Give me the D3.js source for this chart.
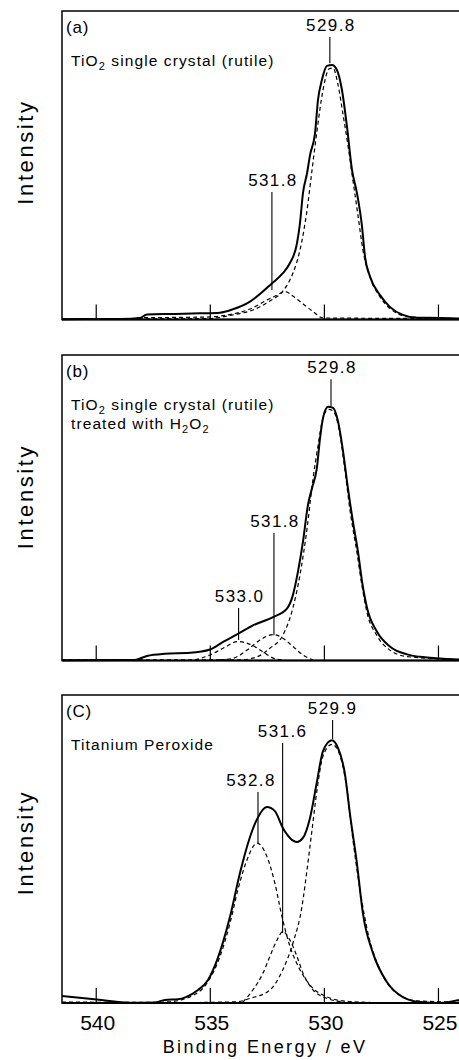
<!DOCTYPE html>
<html>
<head>
<meta charset="utf-8">
<script src="https://cdn.jsdelivr.net/npm/d3@7"></script>
<style>
  body { margin: 0; background: #fff; }
  svg text { font-family: "Liberation Sans", Arial, Helvetica, sans-serif; fill: #000; }
</style>
</head>
<body>
<div id="chart"></div>
<script>
// values: [binding energy (eV), intensity (% of panel height)]
const tickEnergies = [540, 535, 530, 525];
const panelTags = ["(a)", "(b)", "(C)"];
const sampleNames = [
  ["TiO_2 single crystal (rutile)"],
  ["TiO_2 single crystal (rutile)", "treated with H_2O_2"],
  ["Titanium Peroxide"]
];

// (a) TiO2 single crystal
const aEnvelope = [[541.5,0.1],[538.96,0.2],[538.08,0.5],[537.78,1.6],[536.55,1.8],[535.45,2.0],[534.58,2.2],[534.01,3.3],[533.26,5.8],[532.30,11.7],[531.82,15.0],[531.51,18.3],[531.20,24.7],[531.07,31.2],[530.94,40.9],[530.76,47.4],[530.63,53.3],[530.41,60.4],[530.28,71.2],[530.11,77.6],[529.89,82.2],[529.67,82.5],[529.45,80.9],[529.23,74.4],[529.01,62.5],[528.79,48.5],[528.57,40.9],[528.35,30.1],[528.22,20.4],[528.00,13.9],[527.56,7.9],[527.13,4.1],[526.56,1.5],[525.94,0.6],[524.94,0.5],[524.1,0.3]];
const aPeak529 = [[541.5,0.2],[535.10,0.3],[534.01,1.5],[533.13,3.1],[532.39,6.0],[531.82,9.2],[531.38,15.0],[531.07,22.5],[530.76,35.5],[530.54,48.5],[530.32,61.4],[530.06,74.4],[529.80,81.2],[529.62,81.5],[529.40,76.0],[529.18,66.3],[528.97,56.6],[528.75,45.2],[528.53,33.9],[528.31,22.5],[528.00,13.8],[527.56,7.3],[526.99,2.8],[526.25,0.8],[524.1,0.3]];
const aPeak531 = [[538.21,0.6],[535.15,0.8],[534.01,1.8],[533.26,3.4],[532.52,6.3],[532.08,7.9],[531.73,9.1],[531.38,7.6],[530.98,5.3],[530.50,2.6],[530.06,0.5],[524.1,0.3]];
const aPeaks = [
  {label: "529.8", e: 529.76, top: 91.6, bottom: 83.1},
  {label: "531.8", e: 532.30, top: 41.3, bottom: 9.6}
];

// (b) treated with H2O2
const bEnvelope = [[541.46,0.1],[538.3,0.2],[537.78,1.5],[536.99,2.2],[535.89,2.5],[535.01,3.6],[534.44,6.1],[533.79,8.7],[533.13,11.5],[532.25,14.2],[531.64,17.0],[531.38,21.4],[531.16,29.0],[530.94,38.8],[530.72,50.9],[530.54,56.5],[530.33,63.0],[530.19,72.8],[530.06,79.4],[529.84,83.1],[529.62,82.7],[529.40,78.2],[529.18,68.4],[528.97,56.5],[528.75,45.5],[528.53,35.7],[528.35,25.9],[528.13,17.2],[527.70,9.5],[527.13,4.6],[526.38,2.0],[525.81,1.2],[524.1,0.3]];
const bPeak529 = [[541.5,0.2],[533.70,0.2],[532.95,1.2],[532.39,4.0],[531.82,8.3],[531.38,17.2],[531.07,28.0],[530.76,43.2],[530.50,59.4],[530.28,70.3],[530.06,79.4],[529.84,82.2],[529.62,81.7],[529.32,74.1],[529.10,62.3],[528.88,49.3],[528.57,35.2],[528.35,24.3],[528.13,15.6],[527.70,8.2],[527.13,3.4],[526.38,1.3],[524.1,0.3]];
const bPeak531 = [[534.58,0.2],[534.01,0.7],[533.39,3.4],[532.82,6.7],[532.25,8.5],[531.82,7.3],[531.38,4.6],[530.94,1.8],[530.50,0.2]];
const bPeak533 = [[535.67,0.2],[535.01,1.8],[534.44,4.0],[533.79,6.2],[533.17,5.0],[532.69,2.8],[532.21,0.7],[531.73,0.1]];
const bPeaks = [
  {label: "529.8", e: 529.71, top: 92.1, bottom: 83.3},
  {label: "531.8", e: 532.21, top: 41.7, bottom: 8.3},
  {label: "533.0", e: 533.76, top: 17.2, bottom: 6.7}
];

// (c) titanium peroxide
const cEnvelope = [[541.5,2.3],[539.97,1.1],[538.52,0.1],[537.42,0.2],[536.99,1.0],[536.42,1.2],[536.07,1.9],[535.54,4.2],[535.10,7.5],[534.70,14.0],[534.14,27.9],[533.70,42.2],[533.26,53.9],[532.95,59.7],[532.52,63.6],[532.17,62.3],[531.82,56.8],[531.51,53.6],[531.20,52.3],[530.94,53.6],[530.63,60.1],[530.32,72.1],[530.06,81.8],[529.67,85.3],[529.41,82.9],[529.10,74.4],[528.88,61.4],[528.57,45.1],[528.31,29.0],[527.87,16.2],[527.26,6.8],[526.56,1.9],[525.81,0.3],[524.94,0.0],[524.1,1.0]];
const cPeak529 = [[536.5,0.1],[533.83,0.4],[533.26,1.5],[532.39,4.2],[531.82,10.8],[531.38,19.4],[530.98,31.4],[530.76,43.3],[530.54,56.3],[530.32,69.3],[530.06,80.2],[529.67,84.0],[529.41,82.1],[529.01,69.3],[528.75,53.0],[528.44,36.8],[528.09,22.7],[527.56,10.8],[526.81,3.1],[525.94,0.7],[524.1,0.3]];
const cPeak532 = [[541.5,0.3],[537.5,0.2],[536.77,0.4],[535.89,2.0],[535.15,6.4],[534.58,15.0],[534.14,25.8],[533.79,36.8],[533.39,46.5],[532.95,51.9],[532.52,47.6],[532.17,38.9],[531.86,28.1],[531.51,18.4],[531.07,10.8],[530.50,4.8],[529.89,2.0],[529.19,0.7],[528.0,0.2]];
const cPeak531 = [[533.57,0.3],[533.13,4.3],[532.69,9.7],[532.39,15.1],[532.08,20.4],[531.82,23.2],[531.51,20.4],[531.20,15.1],[530.94,9.7],[530.50,4.3],[529.89,1.5],[529.10,0.3]];
const cPeaks = [
  {label: "529.9", e: 529.64, top: 91.9, bottom: 85.7},
  {label: "531.6", e: 531.83, top: 84.4, bottom: 22.7},
  {label: "532.8", e: 532.91, top: 68.5, bottom: 51.9}
];

const xTitle = "Binding Energy / eV";
const yTitle = "Intensity";

// ---- layout ----
const width = 459, height = 1060;

const svg = d3.select("#chart")
  .append("svg")
  .attr("width", width)
  .attr("height", height);

const x = d3.scaleLinear()
  .domain([541.5, 524.1])
  .range([62, 459]);

const panels = [
  {top: 11, base: 319.5, titleY: 152, envelope: aEnvelope, parts: [aPeak529, aPeak531], peaks: aPeaks},
  {top: 355, base: 660.5, titleY: 496.5, envelope: bEnvelope, parts: [bPeak529, bPeak531, bPeak533], peaks: bPeaks},
  {top: 695, base: 1003, titleY: 842.5, envelope: cEnvelope, parts: [cPeak529, cPeak532, cPeak531], peaks: cPeaks}
];

// small nudges of the peak labels away from their marker line
const labelNudge = {"532.8": -8, "529.9": -1, "531.6": -1};

// write "X_2" as X with subscript 2
function richText(sel, str) {
  str.split(/(_\d)/).filter(s => s.length).forEach(function(part) {
    if (part[0] === "_") {
      sel.append("tspan").attr("dy", 4).attr("font-size", 11).text(part.slice(1));
    } else {
      const t = sel.append("tspan").text(part);
      if (sel.selectAll("tspan").size() > 1) t.attr("dy", -4);
    }
  });
}

panels.forEach(function(p, i) {
  const y = d3.scaleLinear().domain([0, 100]).range([p.base, p.top]);
  const g = svg.append("g");

  const line = d3.line()
    .x(d => x(d[0]))
    .y(d => y(d[1]))
    .curve(d3.curveMonotoneX);

  // fitted components
  g.selectAll("path.part")
    .data(p.parts)
    .enter().append("path")
    .attr("class", "part")
    .attr("d", line)
    .attr("fill", "none")
    .attr("stroke", "#000")
    .attr("stroke-width", 1.2)
    .attr("stroke-dasharray", "4,3");

  // measured envelope
  g.append("path")
    .datum(p.envelope)
    .attr("d", line)
    .attr("fill", "none")
    .attr("stroke", "#000")
    .attr("stroke-width", 2);

  // frame: top, left, bottom (right side runs off the page)
  g.append("path")
    .attr("d", "M" + (width + 2) + "," + p.top + "H" + x.range()[0] + "V" + p.base + "H" + (width + 2))
    .attr("fill", "none")
    .attr("stroke", "#000")
    .attr("stroke-width", 1.5);
  g.append("line")
    .attr("x1", x.range()[0]).attr("x2", width)
    .attr("y1", p.base).attr("y2", p.base)
    .attr("stroke", "#000").attr("stroke-width", 2.2);

  // inward ticks
  g.selectAll("line.tick")
    .data(tickEnergies)
    .enter().append("line")
    .attr("class", "tick")
    .attr("x1", d => x(d)).attr("x2", d => x(d))
    .attr("y1", p.base).attr("y2", p.base - 15)
    .attr("stroke", "#000").attr("stroke-width", 1.2);

  // peak markers
  const pk = g.selectAll("g.peak")
    .data(p.peaks)
    .enter().append("g")
    .attr("class", "peak");
  pk.append("line")
    .attr("x1", d => x(d.e)).attr("x2", d => x(d.e))
    .attr("y1", d => y(d.top)).attr("y2", d => y(d.bottom))
    .attr("stroke", "#000").attr("stroke-width", 1.1);
  pk.append("text")
    .attr("x", d => x(d.e) + (labelNudge[d.label] || 0) + 1)
    .attr("y", d => y(d.top) - 6)
    .attr("text-anchor", "middle")
    .attr("font-size", 17)
    .attr("letter-spacing", 1.4)
    .text(d => d.label);

  // panel tag and sample name
  g.append("text")
    .attr("x", 66)
    .attr("y", p.top + 22)
    .attr("font-size", 17)
    .attr("letter-spacing", 0.8)
    .text(panelTags[i]);
  sampleNames[i].forEach(function(name, j) {
    const t = g.append("text")
      .attr("x", 71)
      .attr("y", p.top + 55 + j * 19)
      .attr("font-size", 15.5)
      .attr("letter-spacing", 1.1);
    richText(t, name);
  });

  // y title
  g.append("text")
    .attr("transform", "translate(33," + p.titleY + ") rotate(-90)")
    .attr("text-anchor", "middle")
    .attr("font-size", 22)
    .attr("letter-spacing", 2.6)
    .text(yTitle);
});

// x tick labels under the last panel
const lastBase = panels[panels.length - 1].base;
svg.append("g")
  .selectAll("text")
  .data(tickEnergies)
  .enter().append("text")
  .attr("x", d => x(d) + 1.5)
  .attr("y", lastBase + 27)
  .attr("text-anchor", "middle")
  .attr("font-size", 21)
  .text(d => d);

svg.append("text")
  .attr("x", 265)
  .attr("y", lastBase + 50)
  .attr("text-anchor", "middle")
  .attr("font-size", 18)
  .attr("letter-spacing", 2.4)
  .text(xTitle);
</script>
</body>
</html>
